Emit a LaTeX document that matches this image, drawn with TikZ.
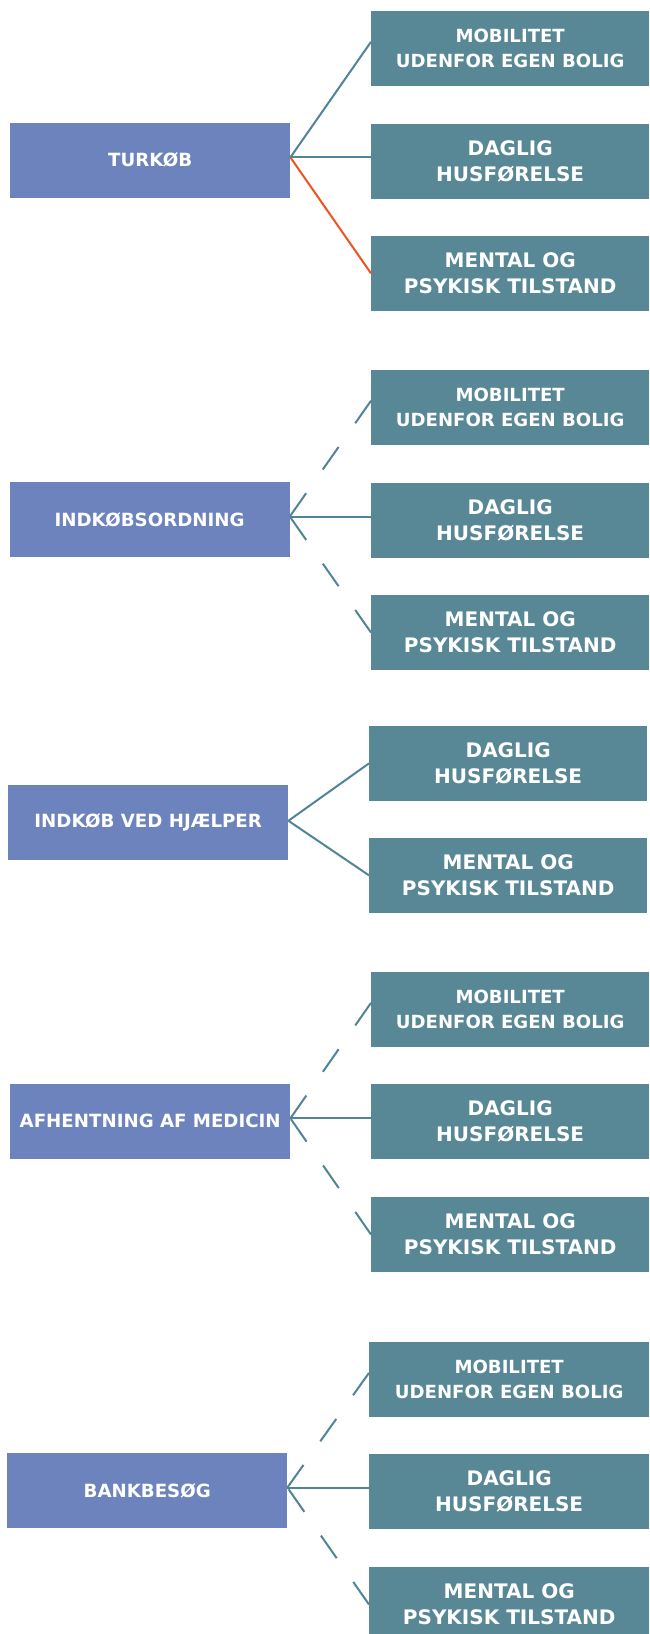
\documentclass[tikz,border=0pt]{standalone}
\usepackage{fontspec}
\setmainfont{DejaVu Sans}
\definecolor{leftfill}{RGB}{109,131,190}
\definecolor{rightfill}{RGB}{88,135,150}
\definecolor{linecol}{RGB}{80,132,150}
\definecolor{hotcol}{RGB}{238,84,34}
\begin{document}
\begin{tikzpicture}[x=1pt,y=-1pt,
  lbox/.style={fill=leftfill, minimum width=280pt, minimum height=74.5pt, inner sep=0pt,
    text=white, anchor=west, font=\bfseries\fontsize{18.2}{20}\selectfont},
  rbox/.style={fill=rightfill, minimum width=278pt, minimum height=75pt, inner sep=0pt,
    text=white, align=center, anchor=west, font=\bfseries\fontsize{20}{26}\selectfont},
  rboxs/.style={rbox, font=\bfseries\fontsize{18.1}{25}\selectfont},
  conn/.style={draw=linecol, line width=2pt},
  dconn/.style={conn, dash pattern=on 27.5pt off 29pt},
  hot/.style={conn, draw=hotcol}]
\useasboundingbox[fill=white] (0,0) rectangle (649,1634);

% group 1
\node[lbox] (l1) at (10,160.35) {TURKØB};
\node[rboxs] (a1) at (371,48.85) {MOBILITET\\UDENFOR EGEN BOLIG};
\node[rbox] (b1) at (371,161.35) {DAGLIG\\HUSFØRELSE};
\node[rbox] (c1) at (371,273.35) {MENTAL OG\\PSYKISK TILSTAND};
\coordinate (j1) at ([yshift=3pt]l1.east);
\draw[conn] (j1) -- ([yshift=7pt]a1.west);
\draw[conn] (j1) -- (j1 -| b1.west);
\draw[hot] (j1) -- (c1.west);

% group 2
\node[lbox] (l2) at (9.4,519.5) {INDKØBSORDNING};
\node[rboxs] (a2) at (371,407.75) {MOBILITET\\UDENFOR EGEN BOLIG};
\node[rbox] (b2) at (371,520.5) {DAGLIG\\HUSFØRELSE};
\node[rbox] (c2) at (371,632.5) {MENTAL OG\\PSYKISK TILSTAND};
\coordinate (j2) at ([yshift=3pt]l2.east);
\draw[dconn] ([yshift=7pt]a2.west) -- (j2);
\draw[conn] (j2 -| b2.west) -- (j2);
\draw[dconn] (c2.west) -- (j2);

% group 3
\node[lbox] (l3) at (8,822.35) {INDKØB VED HJÆLPER};
\node[rbox] (a3) at (369,763.35) {DAGLIG\\HUSFØRELSE};
\node[rbox] (b3) at (369,875.35) {MENTAL OG\\PSYKISK TILSTAND};
\coordinate (j3) at ([yshift=1.6pt]l3.east);
\draw[conn] (j3) -- (a3.west);
\draw[conn] (j3) -- (b3.west);

% group 4
\node[lbox] (l4) at (10,1121.35) {AFHENTNING AF MEDICIN};
\node[rboxs] (a4) at (371,1009.85) {MOBILITET\\UDENFOR EGEN BOLIG};
\node[rbox] (b4) at (371,1121.35) {DAGLIG\\HUSFØRELSE};
\node[rbox] (c4) at (371,1234.5) {MENTAL OG\\PSYKISK TILSTAND};
\coordinate (j4) at ([yshift=3pt]l4.east);
\draw[dconn] ([yshift=7pt]a4.west) -- (j4);
\draw[conn] (j4 -| b4.west) -- (j4);
\draw[dconn] (c4.west) -- (j4);

% group 5
\node[lbox] (l5) at (7,1490.5) {BANKBESØG};
\node[rboxs, minimum width=280pt] (a5) at (369,1379.85) {MOBILITET\\UDENFOR EGEN BOLIG};
\node[rbox, minimum width=280pt] (b5) at (369,1491.35) {DAGLIG\\HUSFØRELSE};
\node[rbox, minimum width=280pt] (c5) at (369,1604.5) {MENTAL OG\\PSYKISK TILSTAND};
\coordinate (j5) at ([yshift=3pt]l5.east);
\draw[dconn] ([yshift=7pt]a5.west) -- (j5);
\draw[conn] (j5 -| b5.west) -- (j5);
\draw[dconn] (c5.west) -- (j5);
\end{tikzpicture}
\end{document}
